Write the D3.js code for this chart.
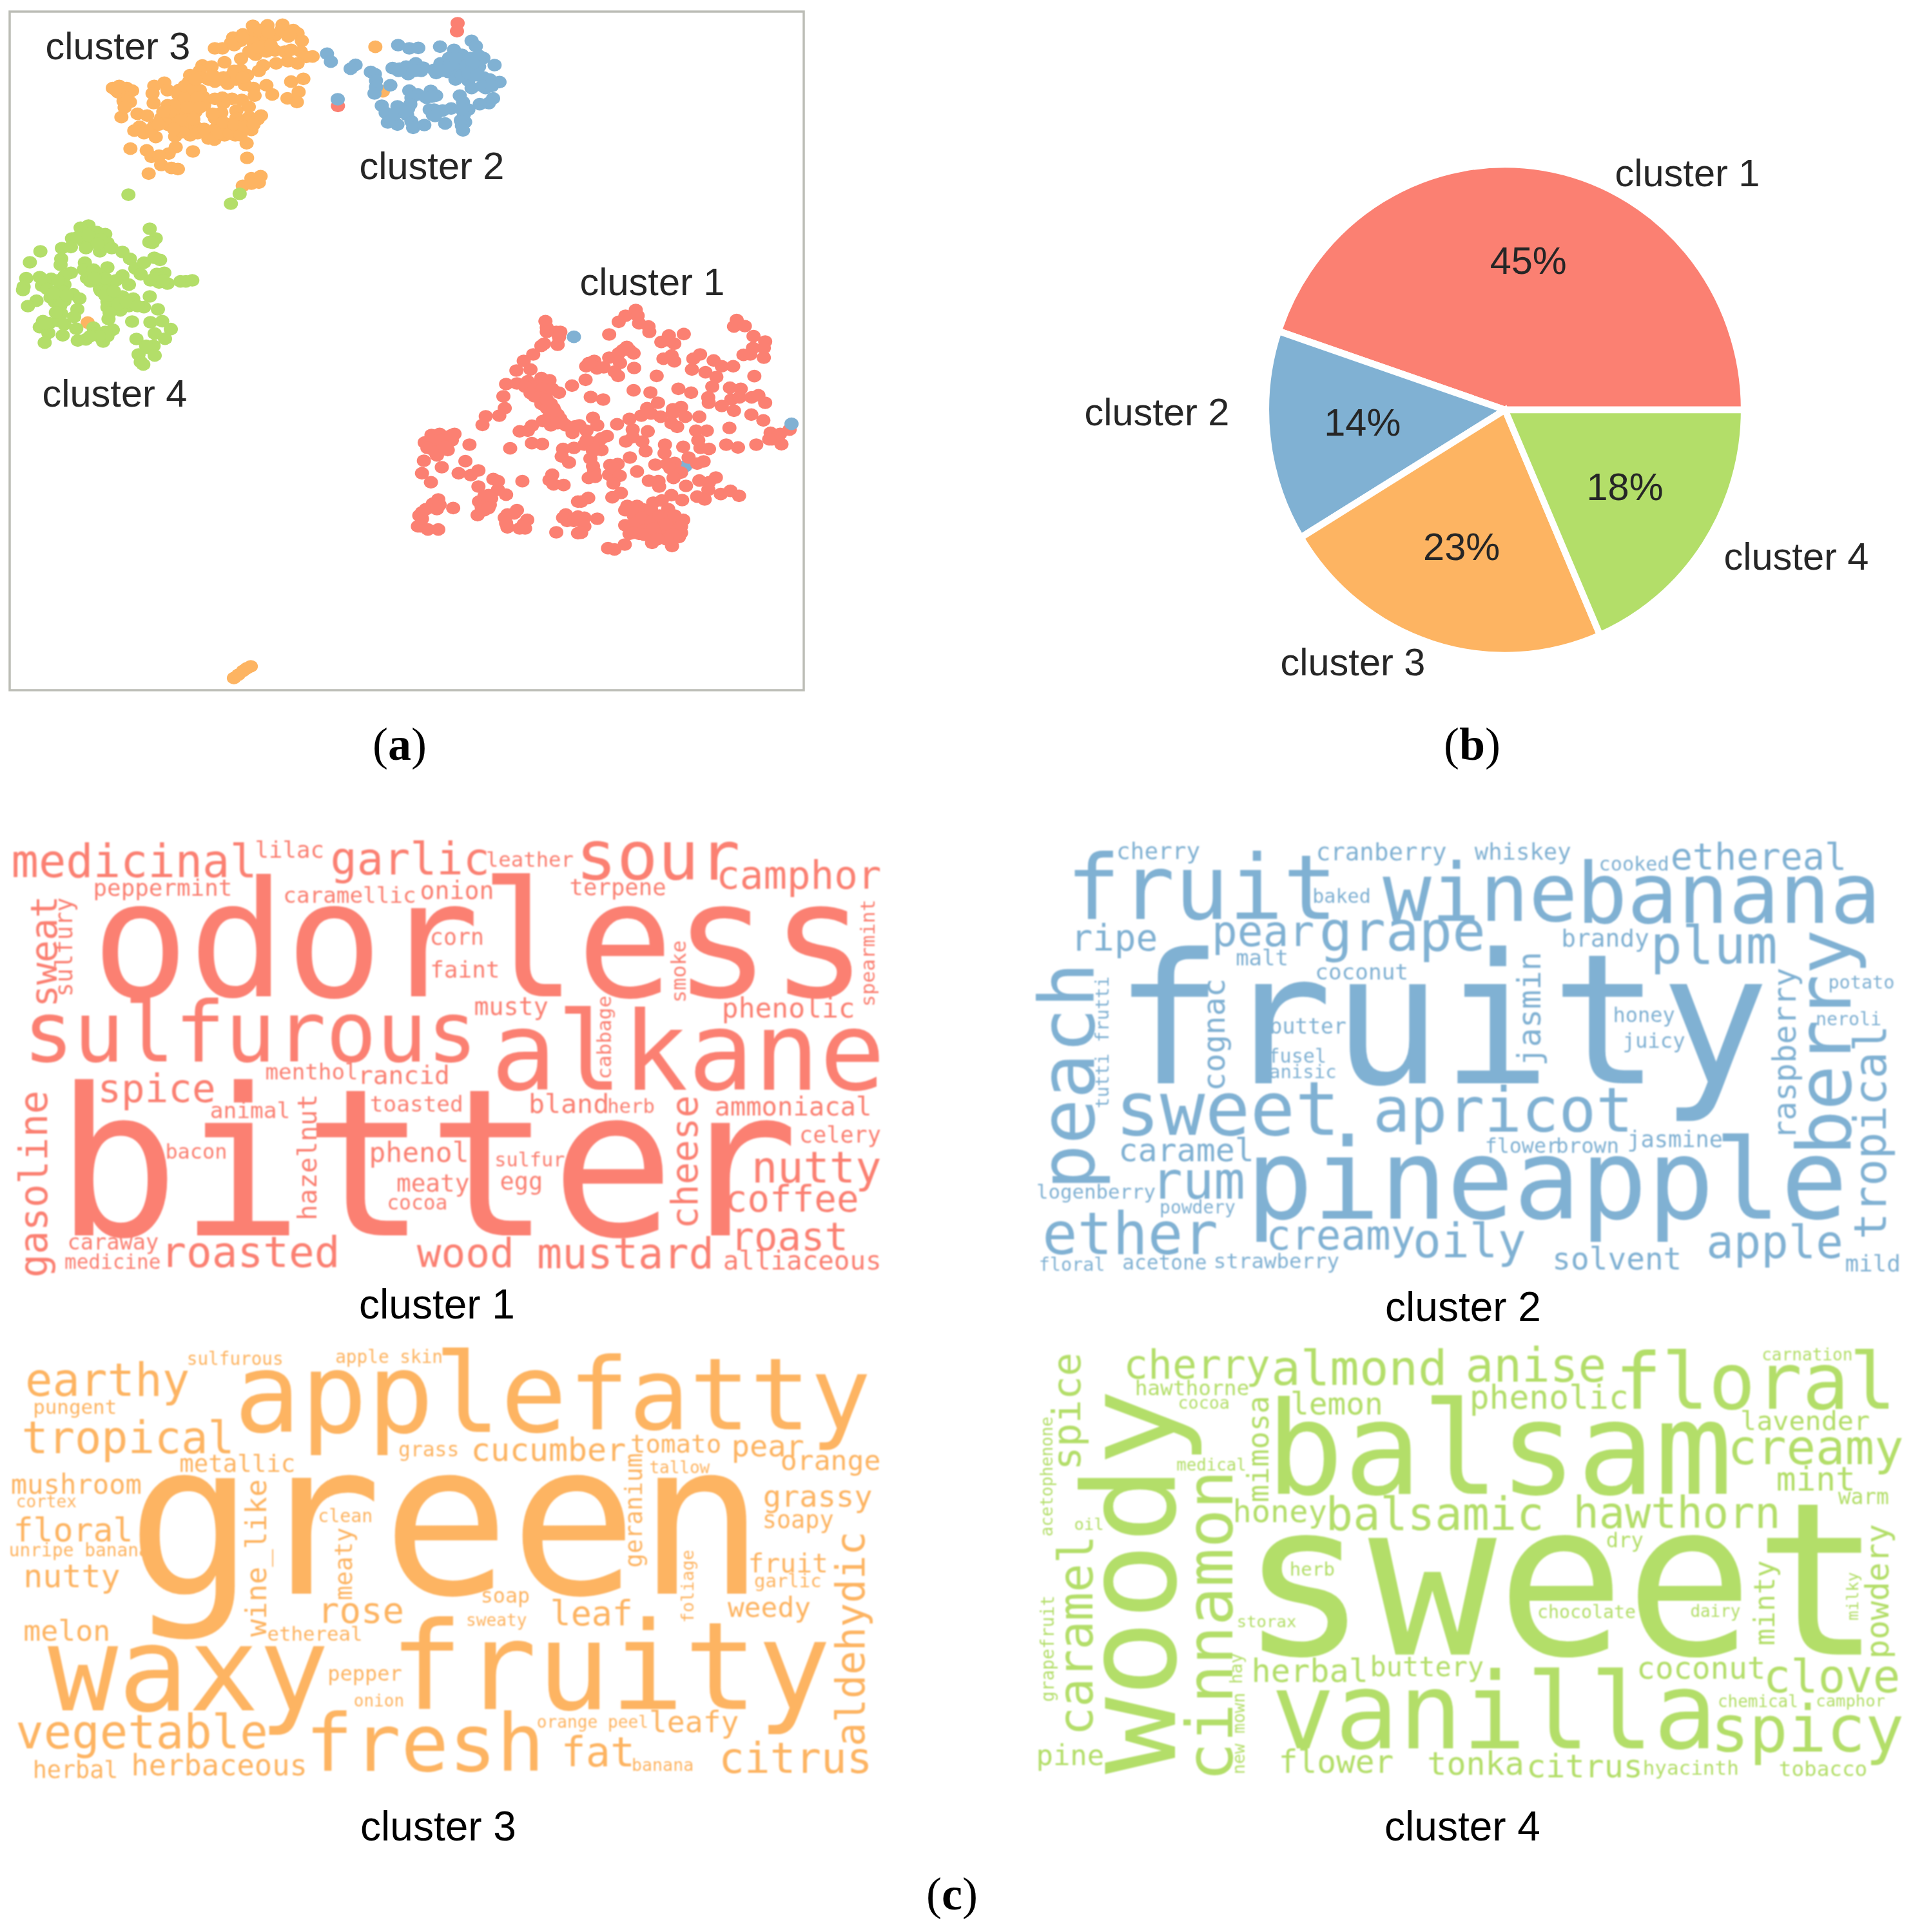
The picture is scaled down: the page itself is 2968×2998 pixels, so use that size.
<!DOCTYPE html>
<html><head><meta charset="utf-8">
<script src="https://cdnjs.cloudflare.com/ajax/libs/d3/7.8.5/d3.min.js"></script>
<style>html,body{margin:0;padding:0;background:#fff}svg{display:block}</style>
</head><body><div id="chart"></div>
<script>
const clusterNames=["cluster 1","cluster 2","cluster 3","cluster 4"];
const clusterShares=[44.8,13.9,22.8,18.49];
const clusterColors=["#FB8072","#80B1D3","#FDB462","#B3DE69"];

// scatter values, arbitrary embedding units, one list per region of the map
const cluster3Points=[[697,60],[765,58],[835,55],[885,80],[905,95],[925,130],[862,110],[800,105],[730,110],[690,100],[650,100],[605,115],[595,140],[640,130],[700,140],[760,130],[520,165],[555,165],[610,150],[642,213],[565,230],[710,195],[760,180],[800,175],[845,180],[875,172],[920,180],[975,203],[945,205],[905,235],[860,225],[805,235],[745,245],[725,270],[680,180],[740,155],[462,245],[505,250],[405,290],[450,270],[640,265],[600,290],[560,300],[620,310],[670,290],[490,310],[520,320],[580,330],[660,335],[700,350],[705,385],[760,337],[787,380],[875,320],[932,307],[910,368],[858,398],[902,415],[45,350],[75,340],[110,350],[135,362],[90,380],[125,415],[95,410],[85,485],[160,470],[205,478],[238,340],[285,325],[230,375],[235,420],[300,360],[355,358],[300,430],[350,380],[400,320],[400,370],[450,360],[465,390],[370,420],[420,420],[470,430],[340,470],[390,470],[430,460],[300,490],[270,490],[240,520],[170,530],[145,548],[190,560],[245,578],[225,540],[300,520],[350,510],[395,520],[335,575],[405,570],[370,555],[430,530],[490,560],[490,585],[518,590],[565,570],[615,570],[668,607],[690,545],[640,540],[585,520],[530,530],[520,490],[555,395],[600,400],[645,405],[678,437],[620,455],[560,420],[520,400],[550,465],[510,470],[620,490],[680,485],[735,478],[720,495],[660,500],[640,510],[127,632],[203,640],[418,645],[338,625],[305,655],[225,670],[260,665],[270,708],[318,722],[348,727],[212,748],[670,675],[733,760],[690,770],[725,790],[650,805],[690,795],[380,340],[420,350],[380,400],[440,395],[330,430],[390,440],[450,440],[360,500],[310,460],[420,495],[280,460],[260,520],[330,540],[440,560],[470,540],[540,560],[590,560],[640,570],[560,510],[610,520],[660,530],[700,520],[730,80],[770,90],[830,80],[870,100],[650,115],[780,150],[720,160],[540,310],[610,270],[650,300],[510,290],[450,300],[430,310],[70,370],[100,440],[60,360]];
const cluster3Strip=[[694,2946],[707,2932],[721,2915],[732,2904],[744,2895]];
const cluster2Points=[[22,160],[40,197],[155,212],[132,230],[72,372],[353,120],[405,135],[447,133],[548,127],[695,100],[715,125],[613,142],[650,165],[327,227],[355,240],[390,220],[435,205],[400,255],[470,225],[460,240],[520,235],[550,205],[590,180],[640,190],[690,180],[750,180],[802,213],[585,245],[640,240],[700,230],[730,170],[620,280],[680,285],[750,270],[780,280],[825,292],[226,245],[245,255],[250,285],[250,315],[243,345],[317,307],[405,332],[445,350],[505,333],[530,355],[415,365],[485,365],[695,320],[760,320],[640,355],[655,385],[680,420],[795,368],[775,390],[733,395],[277,402],[295,435],[350,405],[400,415],[395,445],[305,480],[350,490],[415,475],[423,505],[475,492],[515,445],[520,420],[560,425],[600,415],[572,485],[645,470],[665,478],[650,495],[655,517],[600,210],[670,215],[650,260],[730,220],[700,205],[590,215],[620,180],[680,250],[720,260],[745,310],[790,310],[530,250],[555,240],[430,240],[360,230],[510,360],[500,420],[525,450],[410,395],[320,470],[340,440],[385,430],[660,440],[650,420]];
const cluster1TopStrays=[[73,403],[630,18],[627,55]];
const cluster3BlueStrays=[[247,128],[282,335]];
const cluster4Points=[[352,45],[315,55],[390,75],[430,85],[275,105],[637,60],[665,105],[635,122],[650,125],[128,165],[79,216],[228,150],[270,145],[330,120],[370,110],[405,165],[440,125],[460,150],[510,168],[545,200],[225,200],[222,228],[335,218],[330,250],[375,250],[440,240],[400,270],[345,290],[360,305],[270,265],[240,280],[62,290],[50,330],[47,345],[125,285],[135,325],[178,293],[150,310],[240,320],[215,340],[410,350],[450,310],[510,278],[540,320],[480,300],[420,310],[405,340],[570,245],[595,272],[610,218],[658,195],[685,205],[705,265],[670,270],[640,300],[680,310],[720,315],[780,305],[805,305],[835,300],[637,375],[110,395],[70,420],[175,380],[200,370],[280,365],[310,385],[240,395],[195,400],[220,420],[300,435],[440,400],[470,380],[510,375],[540,420],[560,385],[610,425],[675,435],[440,425],[500,440],[445,480],[555,492],[640,495],[695,490],[735,527],[465,530],[660,548],[708,572],[575,573],[140,490],[125,518],[170,500],[165,545],[148,590],[225,455],[215,490],[240,505],[285,470],[295,525],[232,556],[302,580],[340,575],[375,520],[375,550],[420,585],[440,560],[630,615],[655,605],[585,645],[660,650],[595,680],[607,692],[410,110],[300,100],[350,90],[340,150],[395,130],[400,295],[430,290],[380,290],[440,350],[430,370],[470,350],[490,410],[530,400],[580,420],[450,450],[230,350],[250,370],[160,340],[210,300],[190,360],[200,450],[150,500],[430,540],[400,560],[360,560],[620,605],[690,290],[660,290],[700,300]];
const cluster3GreenStray=[[348,497]];
const cluster4TopStrays=[[381,846],[711,842],[685,885]];
const cluster1Points=[[585,295],[590,325],[590,345],[625,345],[640,345],[635,370],[630,405],[580,400],[570,410],[540,450],[505,480],[530,520],[478,525],[440,588],[480,585],[520,575],[530,600],[560,590],[590,580],[550,620],[590,625],[635,628],[545,645],[570,680],[605,680],[620,715],[430,645],[435,700],[415,735],[365,738],[353,778],[590,760],[610,755],[640,750],[660,780],[695,785],[685,815],[490,808],[535,782],[520,805],[535,863],[573,867],[455,887],[683,595],[733,568],[752,648],[798,660],[690,885],[650,890],[645,925],[672,953],[500,1040],[610,1010],[600,1035],[615,1055],[652,1058],[705,1135],[660,1195],[665,1225],[705,1282],[625,1278],[175,830],[205,830],[250,820],[150,865],[185,870],[225,860],[165,890],[200,895],[225,895],[185,920],[305,870],[137,945],[203,975],[290,947],[130,1003],[265,1003],[310,1012],[338,990],[163,1045],[393,1030],[410,1040],[338,1065],[410,1080],[440,1103],[375,1105],[340,1135],[365,1130],[380,1150],[360,1175],[335,1198],[190,1125],[195,1150],[165,1160],[245,1165],[130,1185],[130,1215],[125,1250],[152,1265],[190,1265],[445,1195],[480,1175],[445,1255],[518,1220],[490,1260],[510,1260],[820,357],[855,298],[880,270],[918,243],[925,270],[930,305],[965,320],[968,345],[1040,362],[1095,355],[1012,392],[1060,400],[1040,385],[820,465],[765,480],[735,505],[775,515],[855,445],[885,415],[910,445],[860,490],[840,530],[853,550],[912,513],[995,550],[1020,470],[1050,455],[1060,482],[1130,470],[1155,450],[1125,520],[1205,478],[1175,533],[1235,505],[1277,505],[1215,555],[1200,600],[1185,650],[1187,675],[1075,610],[1122,628],[972,627],[910,617],[1290,290],[1280,320],[1320,318],[1352,365],[1395,390],[1350,420],[1390,420],[1315,452],[1340,450],[1390,465],[1355,551],[1265,605],[1305,610],[1270,660],[1300,650],[1235,690],[1280,712],[1345,650],[1370,640],[1395,675],[1000,675],[960,700],[1055,705],[1085,695],[1415,815],[1450,820],[1420,845],[1455,868],[1485,800],[165,825],[195,820],[220,835],[140,860],[170,850],[200,850],[240,850],[150,885],[180,905],[215,880],[240,825],[510,600],[570,560],[600,570],[575,610],[610,610],[530,630],[560,650],[590,700],[600,735],[630,730],[575,760],[650,770],[680,790],[710,780],[615,700],[590,660],[605,780],[630,770],[385,1120],[360,1110],[350,1160],[375,1165],[120,1200],[115,1250],[145,1170],[170,1145],[185,1170],[470,1190],[435,1210],[440,1235],[505,1240],[650,1210],[690,1225],[705,1205],[745,490],[800,510],[870,430],[895,430]];
const cluster1Dense=[[60,25],[80,60],[30,85],[125,110],[90,130],[50,140],[20,150],[100,175],[60,180],[48,215],[60,250],[65,275],[40,305],[70,300],[135,290],[175,240],[140,245],[160,260],[185,295],[155,330],[232,210],[172,55],[230,30],[285,15],[245,80],[245,115],[213,135],[290,135],[305,180],[315,88],[375,20],[425,50],[452,67],[490,20],[555,20],[430,5],[330,5],[395,150],[393,190],[350,243],[405,240],[440,235],[420,260],[470,280],[435,305],[480,160],[505,210],[545,238],[575,228],[540,85],[590,85],[550,130],[600,170],[560,165],[680,150],[735,163],[695,72],[797,10],[853,37],[820,150],[880,125],[265,275],[320,318],[365,320],[368,345],[493,342],[555,317],[632,303],[600,325],[597,360],[545,392],[580,405],[655,380],[700,365],[740,388],[425,385],[475,408],[190,375],[150,395],[38,398],[5,415],[80,495],[210,525],[230,565],[275,565],[130,632],[160,638],[208,615],[335,607],[428,622],[220,435],[265,435],[340,420],[380,410],[210,455],[300,470],[270,500],[340,480],[410,450],[460,505],[470,560],[460,580],[420,530],[375,520],[320,540],[380,570],[430,590],[345,570],[290,530],[20,490],[20,530],[5,560],[250,480],[250,520],[290,450],[290,490],[330,450],[330,510],[370,480],[370,540],[410,490],[410,560],[450,540],[250,560],[300,570],[340,540],[400,520],[440,480],[480,500],[470,530],[440,570],[400,590],[360,590],[240,450],[100,120],[70,145],[60,160],[30,130]];
const cluster2LowerUnder=[[490,250]];
const cluster2LowerOver=[[690,368],[1492,773]];

// word clouds: horizontal rows are [word, start, end, baseline], in cloud layout units
const cloud1Words=[["medicinal",22,442,188],["lilac",447,560,125],["garlic",580,845,180],["leather",848,995,155],["sour",1010,1280,195],["camphor",1250,1528,225],["peppermint",165,400,247],["caramellic",495,720,270],["onion",733,855,258],["terpene",992,1155,245],["odorless",182,1485,570],["corn",750,838,405],["faint",750,865,510],["musty",825,952,630],["phenolic",1258,1482,638],["sulfurous",52,818,778],["alkane",868,1525,868],["menthol",462,620,835],["rancid",625,778,850],["spice",175,370,908],["toasted",645,802,938],["bland",922,1055,942],["herb",1058,1135,942],["ammoniacal",1245,1512,952],["animal",368,502,960],["bitter",125,1370,1335],["celery",1392,1530,1038],["bacon",290,392,1090],["phenol",645,812,1100],["sulfur",862,980,1115],["nutty",1312,1530,1165],["meaty",690,815,1195],["egg",872,940,1188],["cocoa",675,775,1252],["coffee",1265,1488,1258],["roast",1275,1468,1382],["caraway",120,275,1380],["roasted",285,585,1436],["wood",725,888,1436],["mustard",935,1235,1440],["alliaceous",1260,1528,1445],["medicine",113,277,1443]];
// vertical rows are [word, baseline, start, end]
const cloud1Turned=[["sweat",98,595,258],["sulfury",125,565,255],["gasoline",82,1460,880],["hazelnut",550,1280,890],["cheese",1212,1305,895],["cabbage",1062,830,572],["smoke",1192,585,395],["spearmint",1520,598,265]];
const cloud2Words=[["cherry",175,318,130],["fruit",95,545,322],["cranberry",525,750,135],["whiskey",800,968,133],["cooked",1020,1138,167],["ethereal",1148,1448,162],["wine",640,970,328],["banana",990,1500,335],["baked",518,615,270],["ripe",97,240,422],["pear",345,515,408],["grape",535,812,422],["brandy",955,1105,410],["plum",1115,1328,465],["malt",382,470,470],["coconut",523,680,515],["potato",1422,1533,545],["butter",443,573,690],["honey",1045,1150,652],["neroli",1400,1510,662],["juicy",1062,1168,735],["fusel",440,538,782],["anisic",442,555,832],["fruity",190,1310,848],["sweet",180,552,1012],["apricot",630,1068,1002],["caramel",180,410,1098],["flower",820,945,1070],["brown",945,1050,1070],["jasmine",1070,1232,1052],["rum",240,395,1218],["logenberry",35,240,1218],["pineapple",415,1440,1282],["powdery",250,380,1265],["ether",50,345,1395],["creamy",440,695,1380],["oily",698,888,1405],["apple",1212,1440,1408],["solvent",940,1158,1445],["strawberry",345,562,1440],["floral",38,150,1448],["acetone",185,328,1445],["mild",1450,1543,1450]];
const cloud2Turned=[["peach",132,1170,480],["tutti frutti",158,925,510],["cognac",362,865,520],["jasmin",915,785,435],["raspberry",1362,1020,480],["berry",1458,1060,360],["tropical",1520,1340,670]];
const cloud3Words=[["sulfurous",327,490,95],["apple skin",585,767,88],["earthy",50,328,188],["apple",422,972,298],["fatty",1000,1510,290],["pungent",60,200,243],["tropical",42,403,362],["grass",695,795,372],["cucumber",823,1085,386],["tomato",1098,1250,360],["pear",1275,1395,372],["orange",1360,1527,413],["metallic",313,510,420],["tallow",1130,1233,423],["mushroom",20,245,487],["cortex",30,133,528],["grassy",1330,1515,525],["clean",555,645,572],["soapy",1328,1448,590],["floral",27,228,632],["unripe banana",18,257,677],["green",250,1300,790],["fruit",1303,1435,725],["garlic",1313,1425,770],["nutty",45,208,770],["soap",838,918,818],["rose",557,698,878],["leaf",962,1095,885],["weedy",1265,1408,860],["sweaty",812,915,888],["melon",42,188,932],["ethereal",467,628,933],["pepper",572,697,1055],["waxy",85,568,1145],["fruity",692,1440,1140],["onion",617,700,1132],["orange peel",935,1125,1198],["leafy",1133,1283,1212],["vegetable",28,460,1260],["fresh",540,935,1328],["fat",980,1097,1315],["citrus",1255,1510,1335],["banana",1100,1203,1328],["herbaceous",232,530,1342],["herbal",60,203,1350]];
const cloud3Turned=[["wine_like",462,920,448],["meaty",612,808,590],["geranium",1115,705,365],["foliage",1205,875,660],["aldehydic",1502,1245,610]];
const cloud4Words=[["cherry",190,440,135],["almond",450,745,155],["anise",790,1025,145],["floral",1055,1530,228],["carnation",1305,1460,80],["hawthorne",207,402,187],["lemon",482,635,245],["phenolic",795,1065,228],["cocoa",282,368,228],["lavender",1270,1490,292],["balsam",452,1245,487],["creamy",1250,1550,395],["medical",278,398,415],["mint",1330,1462,477],["warm",1437,1525,518],["honey",380,540,572],["balsamic",545,915,595],["hawthorn",978,1330,590],["oil",100,148,595],["dry",1033,1095,648],["herb",478,552,735],["sweet",418,1480,975],["chocolate",912,1080,865],["dairy",1180,1265,860],["storax",385,487,892],["herbal",413,610,1058],["buttery",620,815,1040],["coconut",1088,1305,1048],["clove",1312,1540,1090],["chemical",1228,1365,1135],["camphor",1400,1518,1132],["vanilla",445,1210,1260],["spicy",1222,1550,1270],["pine",35,147,1312],["flower",460,655,1335],["tonka",720,882,1340],["citrus",895,1090,1348],["hyacinth",1097,1260,1340],["tobacco",1335,1485,1345]];
const cloud4Turned=[["spice",108,405,65],["woody",275,1335,175],["acetophenone",60,612,255],["mimosa",438,510,195],["cinnamon",375,1345,430],["caramel",130,1210,620],["powdery",1525,980,580],["minty",1325,945,690],["milky",1472,870,725],["grapefruit",62,1115,800],["hay",392,1060,972],["new mown",397,1335,1095]];

const W=2968,H=2998;
const FONT="'Liberation Sans',Arial,sans-serif",SERIF="'Liberation Serif','Times New Roman',serif",MONO="'DejaVu Sans Mono',monospace";
const svg=d3.select("#chart").append("svg").attr("width",W).attr("height",H).attr("viewBox",[0,0,W,H]);
svg.append("rect").attr("width",W).attr("height",H).attr("fill","#fff");
svg.append("defs").append("filter").attr("id","soft").attr("x","-5%").attr("y","-5%").attr("width","110%").attr("height","110%")
  .append("feGaussianBlur").attr("stdDeviation",1.1);

// ---- panel a: scatter
const panelA=svg.append("g");
panelA.append("rect").attr("x",15).attr("y",18).attr("width",1232).attr("height",1053).attr("fill","none").attr("stroke","#bcbdb6").attr("stroke-width",3.5);
const region=(x,y,w,h,du,dv)=>[d3.scaleLinear().domain([0,du]).range([x,x+w]),d3.scaleLinear().domain([0,dv]).range([y,y+h])];
const upper=region(0,0,820,560,1568,1568);
const lower=region(600,400,660,500,1568,1500);
const reg3=region(160,20,340,280,1020,840);
const reg2=region(500,30,300,190,900,570);
const reg4=region(20,335,300,245,900,735);
const reg1=region(900,640,300,240,900,720);
function dots(points,color,scales){
  panelA.append("g").attr("fill",color).selectAll("ellipse").data(points).join("ellipse")
    .attr("cx",d=>scales[0](d[0])).attr("cy",d=>scales[1](d[1])).attr("rx",11).attr("ry",9.8);
}
dots(cluster3GreenStray,clusterColors[2],reg4);
dots(cluster3BlueStrays,clusterColors[2],reg2);
dots(cluster2LowerUnder,clusterColors[1],reg1);
dots(cluster1TopStrays,clusterColors[0],reg2);
dots(cluster1Points,clusterColors[0],lower);
dots(cluster1Dense,clusterColors[0],reg1);
dots(cluster3Points,clusterColors[2],reg3);
dots(cluster3Strip,clusterColors[2],upper);
dots(cluster4Points,clusterColors[3],reg4);
dots(cluster4TopStrays,clusterColors[3],upper);
dots(cluster2Points,clusterColors[1],reg2);
dots(cluster2LowerOver,clusterColors[1],lower);
const scatterLabels=[[0,1012,458],[1,670,278],[2,183,92],[3,178,631]];
panelA.selectAll("text").data(scatterLabels).join("text").attr("x",d=>d[1]).attr("y",d=>d[2]).attr("text-anchor","middle")
  .attr("font-family",FONT).attr("font-size",59.5).attr("fill","#262626").text(d=>clusterNames[d[0]]);

// ---- panel b: pie
const cx=2335,cy=636,rx=371,ry=381;
const pie=d3.pie().sort(null).startAngle(Math.PI/2).endAngle(Math.PI/2-2*Math.PI);
const arc=d3.arc().innerRadius(0).outerRadius(ry);
const pctArc=d3.arc().innerRadius(ry*0.6).outerRadius(ry*0.6);
const panelB=svg.append("g").attr("transform",`translate(${cx},${cy})`);
const arcs=pie(clusterShares);
panelB.append("g").attr("transform",`scale(${rx/ry},1)`).selectAll("path").data(arcs).join("path")
  .attr("d",arc).attr("fill",(d,i)=>clusterColors[i]).attr("stroke","#fff").attr("stroke-width",10.5).attr("stroke-linejoin","miter");
panelB.selectAll("text.pct").data(arcs).join("text").attr("class","pct")
  .attr("x",d=>pctArc.centroid({startAngle:d.startAngle,endAngle:d.endAngle})[0]*rx/ry)
  .attr("y",d=>pctArc.centroid({startAngle:d.startAngle,endAngle:d.endAngle})[1]+15)
  .attr("text-anchor","middle").attr("font-family",FONT).attr("font-size",59.5).attr("fill","#262626")
  .text(d=>Math.round(d.data)+"%");
const pieLabels=[[0,2618,289],[1,1795,660],[2,2099,1048],[3,2787,884]];
svg.append("g").selectAll("text").data(pieLabels).join("text").attr("x",d=>d[1]).attr("y",d=>d[2]).attr("text-anchor","middle")
  .attr("font-family",FONT).attr("font-size",59.5).attr("fill","#262626").text(d=>clusterNames[d[0]]);

// ---- panel c: word clouds
const leftBear=c=>({w:.01,y:.02,v:.01,x:.01,t:.06,f:.07,j:.08,m:.03,k:.1,i:.1,l:.1}[c]??.08);
const rightBear=c=>({w:.01,y:.02,v:.01,x:.01,t:.09,r:.05,m:.03,e:.07,f:.08,l:.06,i:.08}[c]??.08);
const inkEm=w=>0.602*w.length-leftBear(w[0])-rightBear(w[w.length-1]);
const shiftEm=w=>(leftBear(w[0])-rightBear(w[w.length-1]))/2;
function cloud(words,turned,color,crop){
  const [sx,sy]=region(crop[0],crop[1],crop[2],crop[3],1568,1568);
  const size=(w,len)=>len/inkEm(w);
  const g=svg.append("g").attr("fill",color).attr("font-family",MONO).attr("filter","url(#soft)");
  g.selectAll("text.h").data(words).join("text").attr("class","h").attr("text-anchor","middle")
    .attr("x",d=>sx((d[1]+d[2])/2)-shiftEm(d[0])*size(d[0],sx(d[2])-sx(d[1]))).attr("y",d=>sy(d[3]))
    .attr("font-size",d=>size(d[0],sx(d[2])-sx(d[1]))).text(d=>d[0]);
  g.selectAll("text.v").data(turned).join("text").attr("class","v").attr("text-anchor","middle")
    .attr("transform",d=>{const s=size(d[0],sy(d[2])-sy(d[3]));return `translate(${sx(d[1])},${sy((d[2]+d[3])/2)+shiftEm(d[0])*s}) rotate(-90)`;})
    .attr("font-size",d=>size(d[0],sy(d[2])-sy(d[3]))).text(d=>d[0]);
}
cloud(cloud1Words,cloud1Turned,clusterColors[0],[0,1270,1400,760]);
cloud(cloud2Words,cloud2Turned,clusterColors[1],[1580,1270,1388,760]);
cloud(cloud3Words,cloud3Turned,clusterColors[2],[0,2070,1400,800]);
cloud(cloud4Words,cloud4Turned,clusterColors[3],[1580,2070,1388,800]);
const cloudCaptions=[[0,678,2046],[1,2270,2050],[2,680,2856],[3,2269,2856]];
svg.append("g").selectAll("text").data(cloudCaptions).join("text").attr("x",d=>d[1]).attr("y",d=>d[2]).attr("text-anchor","middle")
  .attr("font-family",FONT).attr("font-size",64).attr("fill","#000").text(d=>clusterNames[d[0]]);

// ---- sub-figure letters
const panelLetters=[["a",620,1179],["b",2284,1179],["c",1477,2963]];
const lt=svg.append("g").selectAll("text").data(panelLetters).join("text").attr("x",d=>d[1]).attr("y",d=>d[2]).attr("text-anchor","middle")
  .attr("font-family",SERIF).attr("font-size",72).attr("fill","#000");
lt.append("tspan").text("(");
lt.append("tspan").attr("font-weight","bold").text(d=>d[0]);
lt.append("tspan").text(")");
</script></body></html>
